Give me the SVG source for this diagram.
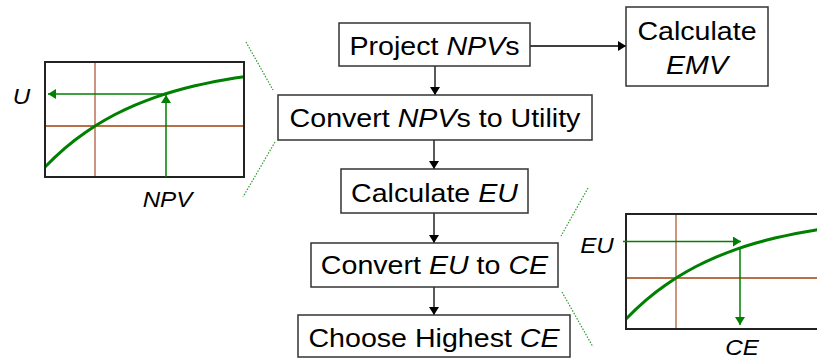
<svg xmlns="http://www.w3.org/2000/svg" xmlns:xlink="http://www.w3.org/1999/xlink" width="817" height="360" viewBox="0 0 817 360">
  <style>
    .box { fill: #ffffff; stroke: #333333; stroke-width: 1.5; }
    .lbl { font-family: "Liberation Sans", Arial, sans-serif; font-size: 26px; fill: #000000; text-anchor: middle; }
    .axl { font-family: "Liberation Sans", Arial, sans-serif; font-size: 22px; font-style: italic; fill: #000000; text-anchor: middle; }
    .it { font-style: italic; }
    .flow { stroke: #000000; stroke-width: 1.3; fill: none; marker-end: url(#headBlack); }
    .read { stroke: #008000; stroke-width: 1.5; fill: none; marker-end: url(#headGreen); }
    .zoom { stroke: #2e9a2e; stroke-width: 1.2; stroke-dasharray: 1.5 1.5; fill: none; }
  </style>
  <defs>
    <marker id="headBlack" viewBox="0 0 8 10" refX="8" refY="5" markerWidth="8" markerHeight="10" markerUnits="userSpaceOnUse" orient="auto">
      <path d="M0,0 L8,5 L0,10 z" fill="#000000"/>
    </marker>
    <marker id="headGreen" viewBox="0 0 8 10" refX="8" refY="5" markerWidth="8" markerHeight="10" markerUnits="userSpaceOnUse" orient="auto">
      <path d="M0,0 L8,5 L0,10 z" fill="#008000"/>
    </marker>
    <!-- utility curve plot, local origin at the frame's top-left corner -->
    <g id="utilityPlot">
      <rect x="0" y="0" width="199" height="115" fill="#ffffff"/>
      <line x1="50" y1="0" x2="50" y2="115" stroke="#b87355" stroke-width="1.5"/>
      <line x1="0" y1="64" x2="199" y2="64" stroke="#a0400c" stroke-width="1.5"/>
      <path d="M0,105 L10,95.1 L20,86.2 L30,78 L40,70.7 L50,64 L60,58 L70,52.5 L80,47.6 L90,43.1 L100,39.1 L110,35.4 L120,32 L130,29 L140,26.3 L150,23.8 L160,21.6 L170,19.5 L180,17.7 L190,16 L199,14.7" fill="none" stroke="#008000" stroke-width="3" stroke-linejoin="round"/>
      <rect x="0" y="0" width="199" height="115" fill="none" stroke="#222222" stroke-width="2"/>
    </g>
  </defs>

  <!-- zoom guides -->
  <g id="guides">
    <line class="zoom" x1="246" y1="42" x2="273" y2="90"/>
    <line class="zoom" x1="275" y1="142" x2="243" y2="197"/>
    <line class="zoom" x1="588" y1="188" x2="561" y2="236"/>
    <line class="zoom" x1="562" y1="292" x2="593" y2="347"/>
  </g>

  <!-- NPV to utility chart -->
  <g id="chartU">
    <use xlink:href="#utilityPlot" transform="translate(45,62)"/>
    <line class="read" x1="166" y1="177" x2="166" y2="95"/>
    <line class="read" x1="166" y1="94" x2="48" y2="94"/>
    <text class="axl" transform="translate(21.5,104) scale(1.1,1)">U</text>
    <text class="axl" transform="translate(167.5,207) scale(1.1,1)">NPV</text>
  </g>

  <!-- EU to certainty equivalent chart -->
  <g id="chartCE">
    <use xlink:href="#utilityPlot" transform="translate(626,214)"/>
    <line class="read" x1="623" y1="241.5" x2="741" y2="241.5"/>
    <line class="read" x1="740" y1="247" x2="740" y2="325"/>
    <text class="axl" transform="translate(597,253) scale(1.1,1)">EU</text>
    <text class="axl" transform="translate(742,355) scale(1.1,1)">CE</text>
  </g>

  <!-- connectors -->
  <g id="connectors">
    <line class="flow" x1="530" y1="46" x2="626" y2="46"/>
    <line class="flow" x1="435" y1="66" x2="435" y2="95"/>
    <line class="flow" x1="434" y1="140" x2="434" y2="169"/>
    <line class="flow" x1="434" y1="213" x2="434" y2="243"/>
    <line class="flow" x1="434" y1="287" x2="434" y2="315"/>
  </g>

  <g id="projectNPVs">
    <rect class="box" x="339" y="23" width="191" height="43"/>
    <text class="lbl" transform="translate(434.5,54.5) scale(1.1,1)">Project <tspan class="it">NPV</tspan>s</text>
  </g>

  <g id="calculateEMV">
    <rect class="box" x="626" y="7" width="142" height="79"/>
    <text class="lbl" transform="translate(697,39.5) scale(1.1,1)">Calculate</text>
    <text class="lbl it" transform="translate(697,74) scale(1.1,1)">EMV</text>
  </g>

  <g id="convertNPVs">
    <rect class="box" x="278" y="95" width="314" height="45"/>
    <text class="lbl" transform="translate(435,127) scale(1.1,1)">Convert <tspan class="it">NPV</tspan>s to Utility</text>
  </g>

  <g id="calculateEU">
    <rect class="box" x="341" y="169" width="187" height="44"/>
    <text class="lbl" transform="translate(434.5,201.5) scale(1.1,1)">Calculate <tspan class="it">EU</tspan></text>
  </g>

  <g id="convertEU">
    <rect class="box" x="311" y="243" width="247" height="44"/>
    <text class="lbl" transform="translate(434.5,273.5) scale(1.1,1)">Convert <tspan class="it">EU</tspan> to <tspan class="it">CE</tspan></text>
  </g>

  <g id="chooseCE">
    <rect class="box" x="298" y="315" width="272" height="42"/>
    <text class="lbl" transform="translate(434,347) scale(1.1,1)">Choose Highest <tspan class="it">CE</tspan></text>
  </g>
</svg>
